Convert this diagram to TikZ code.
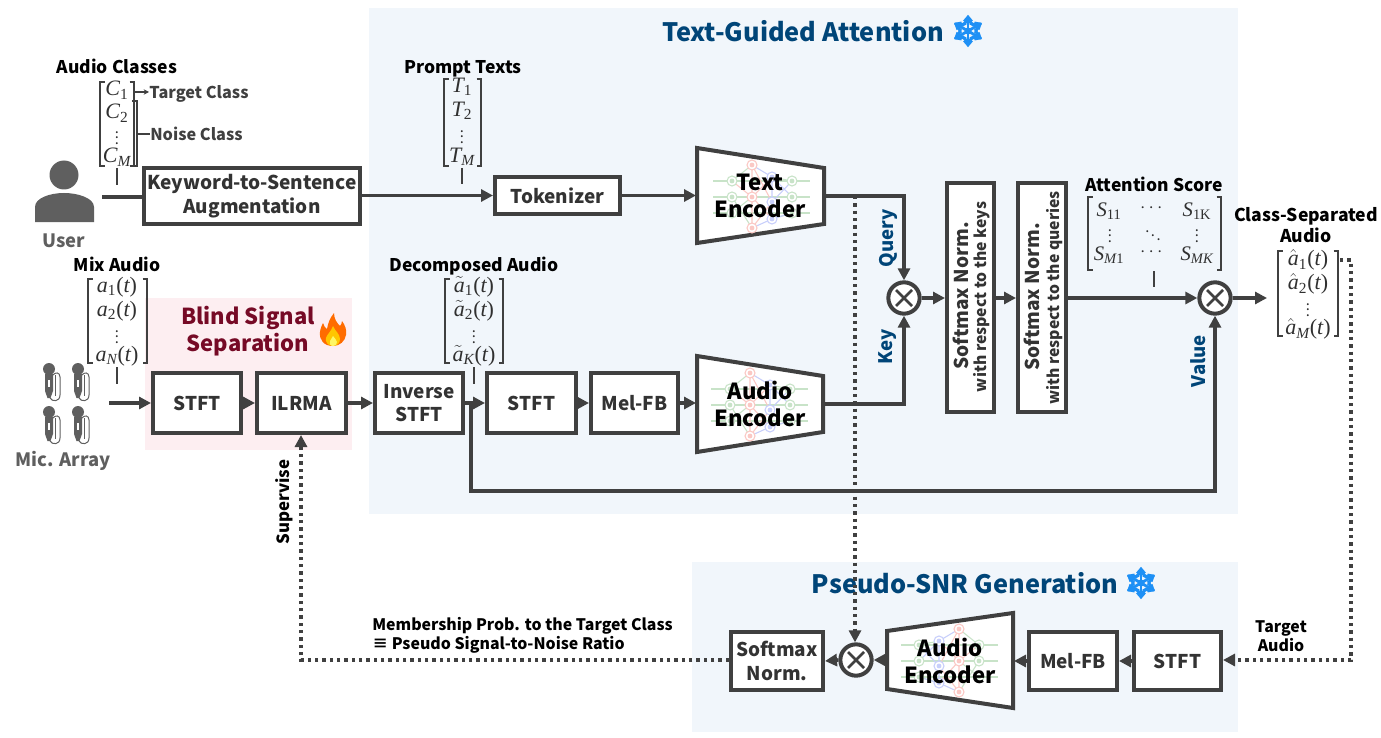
\documentclass[tikz,border=0pt]{standalone}
\usepackage[no-math]{fontspec}
\usepackage{amsmath,amssymb}
\setmainfont{Noto Sans CJK KR}
\newfontfamily\mthfont{Liberation Serif}
\newcommand{\mvar}[1]{\text{\mthfont\itshape #1}}
\newcommand{\mrom}[1]{\text{\mthfont #1}}
\usetikzlibrary{arrows.meta,calc}
\definecolor{ink}{HTML}{404040}
\definecolor{mathink}{HTML}{303030}
\definecolor{panelblue}{HTML}{F1F6FB}
\definecolor{panelpink}{HTML}{FDEEF1}
\definecolor{navy}{HTML}{004578}
\definecolor{maroon}{HTML}{760A26}
\definecolor{flakeblue}{HTML}{1E90F5}
\definecolor{greyicon}{HTML}{5F5F5F}
\definecolor{nngreen}{HTML}{C8E3C8}
\definecolor{nnred}{HTML}{FBC8C4}
\definecolor{nnblue}{HTML}{C8CFFB}
\tikzset{
  wire/.style={draw=ink,line width=2.7pt},
  arrowwire/.style={wire,-{Triangle[length=9pt,width=9pt]}},
  dotwire/.style={draw=ink,line width=3pt,dash pattern=on 2.6pt off 2.9pt},
  dotarrow/.style={dotwire,-{Triangle[length=9pt,width=9pt]}},
  thinrule/.style={draw=ink,line width=1.2pt},
  blockbox/.style={draw=ink,line width=3pt,fill=white,inner sep=0pt,align=center,text=ink!80!black,font=\fontsize{14.2}{17.5}\selectfont\bfseries},
  enc/.style={draw=ink,line width=3pt,fill=white,line join=miter},
  enclabel/.style={inner sep=0pt,align=center,text=black,font=\fontsize{16.6}{20}\selectfont\bfseries},
  lab/.style={inner sep=0pt,align=center,text=black,font=\fontsize{13.1}{15}\selectfont\bfseries},
  smalllab/.style={inner sep=0pt,align=left,text=black,font=\fontsize{11.9}{14.5}\selectfont\bfseries},
  greylab/.style={inner sep=0pt,text=ink,font=\fontsize{12.2}{14}\selectfont\bfseries},
  iconlab/.style={inner sep=0pt,text=greyicon,font=\fontsize{13.8}{18}\selectfont\bfseries},
  title/.style={inner sep=0pt,text=navy,font=\fontsize{19}{24}\selectfont\bfseries},
  keylab/.style={inner sep=0pt,rotate=90,text=navy,font=\fontsize{14}{16}\selectfont\bfseries},
  normlab/.style={inner sep=0pt,rotate=90,text=ink!80!black,font=\fontsize{14.3}{16}\selectfont\bfseries},
  normsub/.style={inner sep=0pt,rotate=90,text=ink!80!black,font=\fontsize{11.8}{13}\selectfont\bfseries},
  mathlab/.style={inner sep=0pt,text=mathink,font=\fontsize{16.5}{17}\selectfont},
  mathsmall/.style={inner sep=0pt,text=mathink,font=\fontsize{15.5}{16}\selectfont},
  mathdots/.style={inner sep=0pt,text=mathink,font=\fontsize{11}{12}\selectfont},
  opnode/.style={circle,draw=ink,line width=3pt,fill=white,minimum size=23.5pt,inner sep=0pt},
  bracket/.style={draw=ink,line width=1.2pt},
}
% box given by its centre-line corners in px
\newcommand{\blockat}[6]{%
  \pgfmathsetlengthmacro{\bw}{(#4-#2)*0.75pt}%
  \pgfmathsetlengthmacro{\bh}{(#5-#3)*0.75pt}%
  \pgfmathsetmacro{\bx}{(#2+#4)/2}\pgfmathsetmacro{\by}{(#3+#5)/2}%
  \node[blockbox,minimum width=\bw,minimum height=\bh] (#1) at (\bx,\by) {#6};}
\newcommand{\optimes}[3]{%
  \node[opnode] (#1) at (#2,#3) {};
  \draw[draw=ink,line width=2pt] ($(#1)+(-8,-8)$) -- ($(#1)+(8,8)$) ($(#1)+(-8,8)$) -- ($(#1)+(8,-8)$);}
\newcommand{\brk}[4]{%
  \draw[bracket] (#1+4.5,#2) -- (#1,#2) -- (#1,#4) -- (#1+4.5,#4);
  \draw[bracket] (#3-4.5,#2) -- (#3,#2) -- (#3,#4) -- (#3-4.5,#4);}
% faint network icon; #3 = +1 or -1 mirrors it
\newcommand{\nnet}[3]{%
  \begin{scope}[shift={(#1,#2)},xscale=#3,line width=.8pt]
    \foreach \yy in {-15,1,17} \draw[nngreen] (-47,\yy) -- (50,\yy);
    \draw[nngreen] (-28,-15) -- (-8,-31) (-28,17) -- (-8,1) (-28,1) -- (-8,32) (32,-15) -- (12,-19) (32,17) -- (12,23);
    \draw[nnred] (-8,-31) -- (12,6) (-8,1) -- (-28,-15) (-8,1) -- (12,-19) (-8,1) -- (12,23) (-8,32) -- (12,6) (-8,-31) -- (-8,32);
    \draw[nnblue] (-8,-31) -- (12,-19) -- (32,1) (12,-19) -- (12,23) (-8,32) -- (12,23) -- (32,17) (12,6) -- (32,-15);
    \foreach \p in {(-28,-15),(-28,1),(-28,17),(32,-15),(32,1),(32,17)} {\draw[nngreen,fill=white] \p circle (5); \fill[nngreen] \p circle (2.4);}
    \foreach \p in {(-8,-31),(-8,1),(-8,32)} {\draw[nnred,fill=white] \p circle (5); \fill[nnred] \p circle (2.4);}
    \foreach \p in {(12,-19),(12,6),(12,23)} {\draw[nnblue,fill=white] \p circle (5); \fill[nnblue] \p circle (2.4);}
  \end{scope}}
\newcommand{\flake}[3]{%
  \begin{scope}[shift={(#1,#2)},scale=#3,draw=flakeblue,line width=2.1pt,line cap=butt]
    \foreach \a in {30,90,...,330} {
      \draw (0,0) -- (\a:15);
      \draw ($(\a:5.5)+(\a+90:5.6)$) -- (\a:11) -- ($(\a:5.5)+(\a-90:5.6)$);
      \draw ($(\a:9.5)+(\a+90:3.8)$) -- (\a:14) -- ($(\a:9.5)+(\a-90:3.8)$);
    }
    \fill[flakeblue] (0,0) circle (3.6);
  \end{scope}}
\newcommand{\mic}[2]{%
  \begin{scope}[shift={(#1,#2)}]
    \fill[greyicon] (0,0) circle (6);
    \fill[greyicon] (-4,5) -- (4,5) -- (4,22) -- (1.5,29) -- (-1.5,29) -- (-4,22) -- cycle;
    \fill[white] (-1,11) rectangle (1,18);
    \draw[greyicon,line width=.75pt] (4,6) .. controls (6,3) and (11,3) .. (11,8) -- (11,26) .. controls (11,33) and (3,33) .. (1,29);
    \draw[greyicon,line width=.75pt] (6.5,6) -- (6.5,27);
  \end{scope}}
\begin{document}
\begin{tikzpicture}[x=0.75pt,y=-0.75pt]
\useasboundingbox (0,0) rectangle (1381,738);
% panels
\fill[panelblue] (369,8) rectangle (1238,514);
\fill[panelblue] (692,562) rectangle (1238,732);
\fill[panelpink] (145,298) rectangle (352,450);
% titles
\node[title] (t1) at (803,31) {Text-Guided Attention};
\flake{968}{31}{1}
\node[title] (t2) at (965,583) {Pseudo-SNR Generation};
\flake{1141}{583}{1}
\node[title,text=maroon,align=center,font=\fontsize{16.5}{20.3}\selectfont\bfseries] (t3) at (248,331) {Blind Signal\\Separation};
% flame
\fill[orange!85!red] (333,346) .. controls (324,346) and (319,340) .. (320,332) .. controls (320.5,328) and (322,325) .. (323,323) .. controls (324,326) and (325,328) .. (327,329) .. controls (328,323) and (330,318) .. (334,313) .. controls (334,319) and (337,323) .. (340,326) .. controls (341,325) and (342,323) .. (342,321) .. controls (345,325) and (347,330) .. (346,335) .. controls (345,341) and (340,346) .. (333,346) -- cycle;
\fill[orange!45!yellow] (333,346) .. controls (328,346) and (325,342) .. (326,338) .. controls (327,334) and (331,332) .. (333,326) .. controls (335,331) and (340,334) .. (340,339) .. controls (340,343) and (337,346) .. (333,346) -- cycle;
\fill[yellow!60!white] (333,346) .. controls (330,346) and (329,343) .. (330,341) .. controls (331,339) and (332,338) .. (333,336) .. controls (334,338) and (337,340) .. (337,342) .. controls (337,345) and (335,346) .. (333,346) -- cycle;
% user
\fill[greyicon] (64,175) circle (14.5);
\fill[greyicon] (35,222) -- (35,207) .. controls (35,198) and (50,193) .. (64,193) .. controls (78,193) and (94,198) .. (94,207) -- (94,222) -- cycle;
\node[iconlab] (user) at (64,241) {User};
\coordinate (userout) at (102,197);
% mics
\mic{49}{369}\mic{78}{369}\mic{49}{412}\mic{78}{412}
\node[iconlab] (mic) at (63,461) {Mic. Array};
\coordinate (micout) at (109,403);
% blocks
\blockat{kw}{144}{168}{360}{224}{\fontsize{14.3}{18.5}\selectfont Keyword-to-Sentence\\Augmentation}
\blockat{tok}{495}{177}{620}{214}{Tokenizer}
\blockat{stfta}{153}{373}{241}{433}{STFT}
\blockat{ilrma}{257}{373}{346}{433}{ILRMA}
\blockat{istft}{375}{373}{463}{433}{Inverse\\STFT}
\blockat{stftb}{487}{373}{576}{433}{STFT}
\blockat{melb}{591}{373}{678}{433}{Mel-FB}
\blockat{smk}{947}{183}{994}{412}{}
\blockat{smq}{1018}{183}{1066}{412}{}
\blockat{smp}{731}{632}{823}{690}{Softmax\\Norm.}
\blockat{melc}{1029}{632}{1117}{690}{Mel-FB}
\blockat{stftc}{1134}{632}{1221}{690}{STFT}
\node[normlab] (smk1) at (961,296) {Softmax Norm.};
\node[normsub] (smk2) at (982,297) {with respect to the keys};
\node[normlab] (smq1) at (1032,297) {Softmax Norm.};
\node[normsub] (smq2) at (1055,298) {with respect to the queries};
% encoders
\draw[enc] (697,148) -- (824,168) -- (824,224) -- (697,243) -- cycle;
\nnet{760}{196}{1}
\node[enclabel] (te) at (760,196) {Text\\Encoder};
\coordinate (tein) at (696,196);\coordinate (teout) at (825,196);
\draw[enc] (697,356) -- (823,376) -- (823,432) -- (697,452) -- cycle;
\nnet{758}{404}{1}
\node[enclabel] (ae) at (760,404) {Audio\\Encoder};
\coordinate (aein) at (696,404);\coordinate (aeout) at (824,404);
\draw[enc] (887,631) -- (1013,613) -- (1013,708) -- (887,689) -- cycle;
\nnet{951}{660}{-1}
\node[enclabel] (ac) at (950,661) {Audio\\Encoder};
\coordinate (acin) at (1014,660);\coordinate (acout) at (886,660);
% operators
\optimes{mq}{904}{298}
\optimes{mv}{1215}{298}
\optimes{mp}{856}{660}
% solid connectors
\draw[wire] (userout) -- (kw.west |- userout);
\draw[arrowwire] (kw.east |- tok) -- (tok.west);
\draw[arrowwire] (tok.east) -- (tok.east -| tein);
\draw[arrowwire] (teout) -| (mq.north);
\draw[arrowwire] (aeout) -| (mq.south);
\draw[arrowwire] (mq.east) -- (smk.west |- mq);
\draw[arrowwire] (smk.east |- mq) -- (smq.west |- mq);
\draw[arrowwire] (smq.east |- mq) -- (mv.west);
\coordinate (mvout) at (1267,298);
\draw[arrowwire] (mv.east) -- (mvout);
\draw[arrowwire] (micout) -- (stfta.west |- micout);
\draw[arrowwire] (stfta.east) -- (ilrma.west);
\draw[arrowwire] (ilrma.east) -- (istft.west);
\draw[arrowwire] (istft.east) -- (stftb.west);
\draw[arrowwire] (stftb.east) -- (melb.west);
\draw[arrowwire] (melb.east) -- (melb.east -| aein);
\coordinate (branch) at (471,403);
\coordinate (branchlow) at (471,491);
\draw[arrowwire,line join=miter] (branch) -- (branchlow) -| (mv.south);
% dotted connectors
\coordinate (dtop) at (855,196);
\draw[dotarrow] (dtop) -- (dtop |- mp.north);
\coordinate (outa) at (1340,260);
\coordinate (outb) at (1351,260);
\coordinate (outc) at (1351,660);
\draw[dotarrow] (outa) -- (outb) -- (outc) -- (stftc.east |- outc);
\coordinate (supc) at (301,660);
\draw[dotarrow] (smp.west |- supc) -- (supc) -- (ilrma.south -| supc);
\draw[arrowwire] (stftc.west) -- (melc.east);
\draw[arrowwire] (melc.west) -- (melc.west -| acin);
\draw[arrowwire] (acout) -- (mp.east);
\draw[arrowwire] (mp.west) -- (smp.east);
% key labels
\node[keylab] (lq) at (888,238) {Query};
\node[keylab] (lk) at (888,347) {Key};
\node[keylab] (lv) at (1198,361) {Value};
\node[lab,rotate=90,font=\fontsize{12.6}{14}\selectfont\bfseries] (sup) at (284,502) {Supervise};
\node[smalllab,anchor=west] (memb) at (372,626) {Membership Prob. to the Target Class};
\node[smalllab,anchor=west] (psnr) at (372,645) {≡ Pseudo Signal-to-Noise Ratio};
\node[smalllab,align=center] (tgta) at (1281,636) {Target\\Audio};
% Audio classes
\node[lab] (lac) at (117,66) {Audio Classes};
\brk{100}{82}{134}{166}
\node[mathlab] (c1) at (117,90) {$\mvar{C}_{\mrom{1}}$};
\node[mathlab] (c2) at (117,113) {$\mvar{C}_{\mrom{2}}$};
\node[mathdots] (c3) at (117,134) {$\vdots$};
\node[mathlab] (c4) at (117,157) {$\mvar{C}_{\mvar{M}}$};
\draw[thinrule] (117,168) -- (117,185);
\draw[bracket] (132,101) -- (137,101) -- (137,166) -- (132,166);
\node[greylab,anchor=west] (ltc) at (149,94) {Target Class};
\node[greylab,anchor=west] (lnc) at (150,134) {Noise Class};
\draw[draw=ink,line width=1pt,-{Stealth[length=4pt,width=4pt]}] (134,92) -- (ltc.west |- 134,92);
\draw[draw=ink,line width=1pt] (137,134) -- (lnc.west);
% Prompt texts
\node[lab] (lpt) at (463,69) {Prompt Texts};
\brk{444}{79}{481}{166}
\node[mathlab] (p1) at (462,87) {$\mvar{T}_{\mrom{1}}$};
\node[mathlab] (p2) at (462,111) {$\mvar{T}_{\mrom{2}}$};
\node[mathdots] (p3) at (462,133) {$\vdots$};
\node[mathlab] (p4) at (462,157) {$\mvar{T}_{\mvar{M}}$};
\draw[thinrule] (462,168) -- (462,184);
% Mix audio
\node[lab] (lma) at (117,264) {Mix Audio};
\brk{88}{279}{147}{363}
\node[mathlab] (m1) at (117,287) {$\mvar{a}_{\mrom{1}}\mrom{(}\mvar{t}\mrom{)}$};
\node[mathlab] (m2) at (117,311) {$\mvar{a}_{\mrom{2}}\mrom{(}\mvar{t}\mrom{)}$};
\node[mathdots] (m3) at (117,333) {$\vdots$};
\node[mathlab] (m4) at (117,356) {$\mvar{a}_{\mvar{N}}\mrom{(}\mvar{t}\mrom{)}$};
\draw[thinrule] (117,367) -- (117,384);
% Decomposed
\node[lab] (lda) at (474,266) {Decomposed Audio};
\brk{445}{279}{503}{363}
\node[mathlab] (d1) at (474,287) {$\tilde{\mvar{a}}_{\mrom{1}}\mrom{(}\mvar{t}\mrom{)}$};
\node[mathlab] (d2) at (474,311) {$\tilde{\mvar{a}}_{\mrom{2}}\mrom{(}\mvar{t}\mrom{)}$};
\node[mathdots] (d3) at (474,333) {$\vdots$};
\node[mathlab] (d4) at (474,356) {$\tilde{\mvar{a}}_{\mvar{K}}\mrom{(}\mvar{t}\mrom{)}$};
\draw[thinrule] (474,367) -- (474,384);
% Attention
\node[lab] (las) at (1154,184) {Attention Score};
\brk{1088}{197}{1221}{270}
\node[mathsmall] (s11) at (1109,211) {$\mvar{S}_{\mrom{11}}$};
\node[mathsmall] (s12) at (1153,208) {$\cdots$};
\node[mathsmall] (s13) at (1197,211) {$\mvar{S}_{\mrom{1K}}$};
\node[mathdots] (s21) at (1110,232) {$\vdots$};
\node[mathdots] (s22) at (1153,232) {$\ddots$};
\node[mathdots] (s23) at (1197,232) {$\vdots$};
\node[mathsmall] (s31) at (1109,255) {$\mvar{S}_{\mvar{M}\mrom{1}}$};
\node[mathsmall] (s32) at (1153,252) {$\cdots$};
\node[mathsmall] (s33) at (1197,255) {$\mvar{S}_{\mvar{MK}}$};
\draw[thinrule] (1154,271) -- (1154,287);
% Class-separated
\node[lab,font=\fontsize{13.2}{15.5}\selectfont\bfseries] (lcs) at (1306,225) {Class-Separated\\Audio};
\brk{1278}{251}{1338}{336}
\node[mathlab] (h1) at (1308,260) {$\hat{\mvar{a}}_{\mrom{1}}\mrom{(}\mvar{t}\mrom{)}$};
\node[mathlab] (h2) at (1308,284) {$\hat{\mvar{a}}_{\mrom{2}}\mrom{(}\mvar{t}\mrom{)}$};
\node[mathdots] (h3) at (1308,306) {$\vdots$};
\node[mathlab] (h4) at (1308,329) {$\hat{\mvar{a}}_{\mvar{M}}\mrom{(}\mvar{t}\mrom{)}$};
\end{tikzpicture}
\end{document}
